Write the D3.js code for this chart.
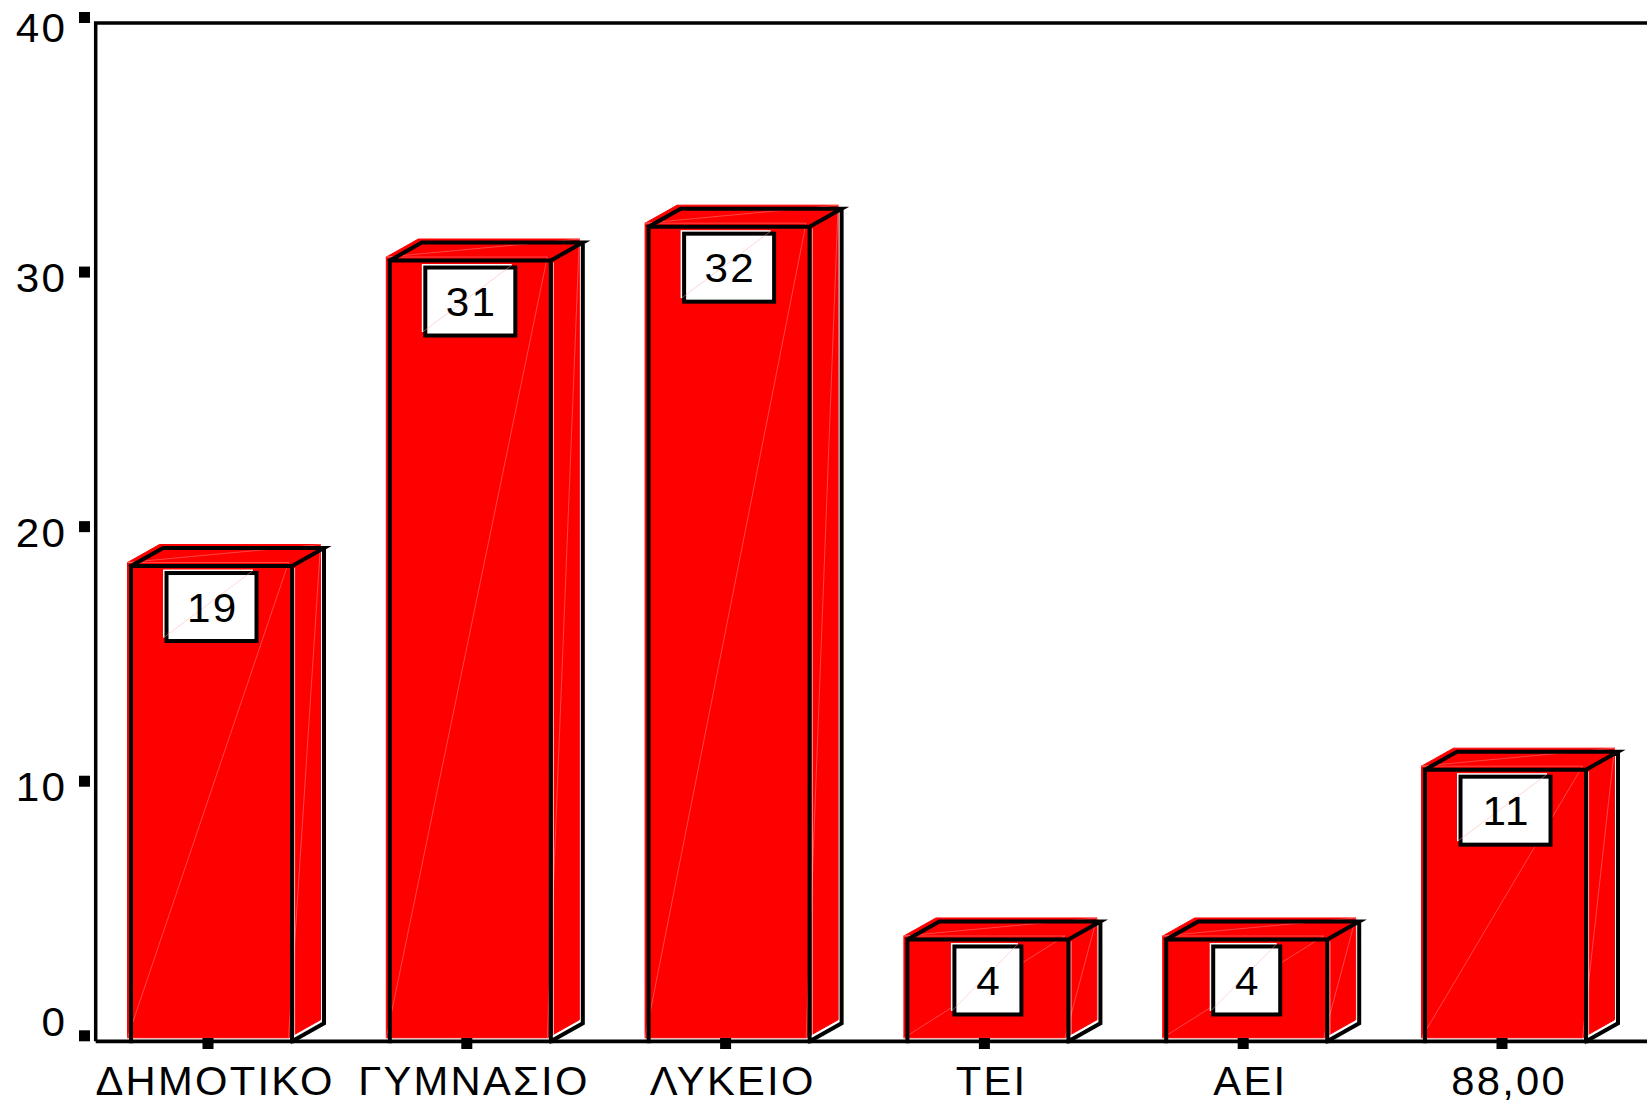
<!DOCTYPE html>
<html>
<head>
<meta charset="utf-8">
<script src="https://cdn.jsdelivr.net/npm/d3@7"></script>
<style>
  html, body { margin: 0; padding: 0; background: #fff; }
  svg { display: block; }
  text { font-family: "Liberation Sans", Arial, Helvetica, sans-serif; fill: #000; }
</style>
</head>
<body>
<script>
// ---- data ----
const categories = ["ΔΗΜΟΤΙΚΟ", "ΓΥΜΝΑΣΙΟ", "ΛΥΚΕΙΟ", "ΤΕΙ", "ΑΕΙ", "88,00"];
const percents = [18.67, 30.67, 32.0, 4.0, 4.0, 10.67];
const yTickValues = [0, 10, 20, 30, 40];

// ---- layout ----
const W = 1647, H = 1104;
const FONT = 41, SX = 1.03, LS = 2.2;
const DX = 32, DY = -18;      // 3D depth
const OFF = -3.5;             // red shadow offset
const frontW = 161;

const svg = d3.select("body").append("svg").attr("width", W).attr("height", H);

const y = d3.scaleLinear().domain([0, 40]).range([1041.3, 23]);
const x = d3.scaleBand().domain(categories).range([78.6, 1631.4])
  .paddingInner(0.378).paddingOuter(0.189);

const RED = "#ff0000";

function stretchedText(g, tx, ty, str, anchor, size) {
  const fs = size || FONT;
  const shift = anchor === "middle" ? LS * SX / 2 : (anchor === "end" ? LS * SX : 0);
  return g.append("text")
    .attr("transform", `translate(${tx + shift},${ty}) scale(${SX},1)`)
    .attr("text-anchor", anchor)
    .attr("font-size", fs)
    .attr("letter-spacing", LS)
    .text(str);
}

// frame (left + top), extends past right edge
svg.append("path")
  .attr("d", `M95.7,${y(0)} L95.7,${y(40)} L${W + 10},${y(40)}`)
  .attr("fill", "none").attr("stroke", "#000").attr("stroke-width", 3.5)
  .attr("stroke-linejoin", "miter");

// y ticks and labels
const yAxisG = svg.append("g");
yTickValues.forEach(v => {
  yAxisG.append("rect")
    .attr("x", 79).attr("y", y(v) - 5.5 - 5.5)
    .attr("width", 11).attr("height", 11).attr("fill", "#000");
  const cy = Math.min(Math.max(y(v), 27), 1021);
  stretchedText(yAxisG, 65, cy + 0.716 * FONT / 2, String(v), "end");
});

// bars
const bars = svg.append("g");
categories.forEach((c, i) => {
  const v = percents[i];
  const L = x(c) + 3.5, R = L + frontW;
  const T = y(v), B = y(0);
  const g = bars.append("g");

  // red shaded solid (offset)
  const rg = g.append("g").attr("transform", `translate(${OFF},${OFF})`);
  rg.append("rect").attr("x", L).attr("y", T).attr("width", R - L).attr("height", B - T)
    .attr("fill", RED).attr("stroke", RED).attr("stroke-width", 1);
  rg.append("path")
    .attr("d", `M${L},${T} L${L + DX},${T + DY} L${R + DX},${T + DY} L${R},${T} Z`)
    .attr("fill", RED).attr("stroke", RED).attr("stroke-width", 1);
  rg.append("path")
    .attr("d", `M${R},${T} L${R + DX},${T + DY} L${R + DX},${B + DY} L${R},${B} Z`)
    .attr("fill", RED).attr("stroke", RED).attr("stroke-width", 1);
  // faint seams
  const seam = "rgba(255,220,220,0.45)";
  rg.append("path")
    .attr("d", `M${L},${B} L${R},${T} M${L},${T} L${R + DX},${T + DY} M${R + DX},${T + DY} L${R},${B} M${L},${T} L${R},${T}`)
    .attr("fill", "none").attr("stroke", seam).attr("stroke-width", 0.7);

  // white sliver at right of the front edge
  g.append("line").attr("x1", R + 2.6).attr("x2", R + 2.6).attr("y1", T + 2).attr("y2", B - 4)
    .attr("stroke", "rgba(255,255,255,0.7)").attr("stroke-width", 1);

  // black outline
  g.append("path")
    .attr("d", `M${L},${B} L${L},${T} L${R},${T} L${R},${B} ` +
               `M${L},${T} L${L + DX},${T + DY} L${R + DX},${T + DY} L${R},${T} ` +
               `M${R + DX},${T + DY} L${R + DX},${B + DY} L${R},${B}`)
    .attr("fill", "none").attr("stroke", "#000").attr("stroke-width", 4)
    .attr("stroke-linejoin", "miter").attr("stroke-linecap", "square");

  // value label box
  const label = String(Math.round(v));
  const boxW = 44 + 23 * label.length, boxH = 68;
  const cx = (L + R) / 2;
  const bx = cx - boxW / 2, by = T + 7;
  g.append("rect").attr("x", bx - 3.5).attr("y", by - 3.5).attr("width", boxW).attr("height", boxH)
    .attr("fill", "#fff");
  g.append("rect").attr("x", bx).attr("y", by).attr("width", boxW).attr("height", boxH)
    .attr("fill", "#fff").attr("stroke", "#000").attr("stroke-width", 4);
  g.append("line").attr("x1", bx - 2).attr("y1", by + boxH - 4).attr("x2", bx + boxW - 4).attr("y2", by - 2)
    .attr("stroke", "rgba(255,170,170,0.6)").attr("stroke-width", 0.8);
  stretchedText(g, cx, by + boxH / 2 + 0.716 * FONT / 2, label, "middle");
});

// x axis line
svg.append("line").attr("x1", 95.7).attr("x2", W + 10).attr("y1", y(0)).attr("y2", y(0))
  .attr("stroke", "#000").attr("stroke-width", 3.8);

// x ticks and labels
const xAxisG = svg.append("g");
categories.forEach(c => {
  const cx = x(c) + x.bandwidth() / 2;
  xAxisG.append("rect").attr("x", cx - 5.5).attr("y", 1038).attr("width", 11).attr("height", 11)
    .attr("fill", "#000");
  stretchedText(xAxisG, cx + 6, 1094.5, c, "middle", 40.5);
});
</script>
</body>
</html>
